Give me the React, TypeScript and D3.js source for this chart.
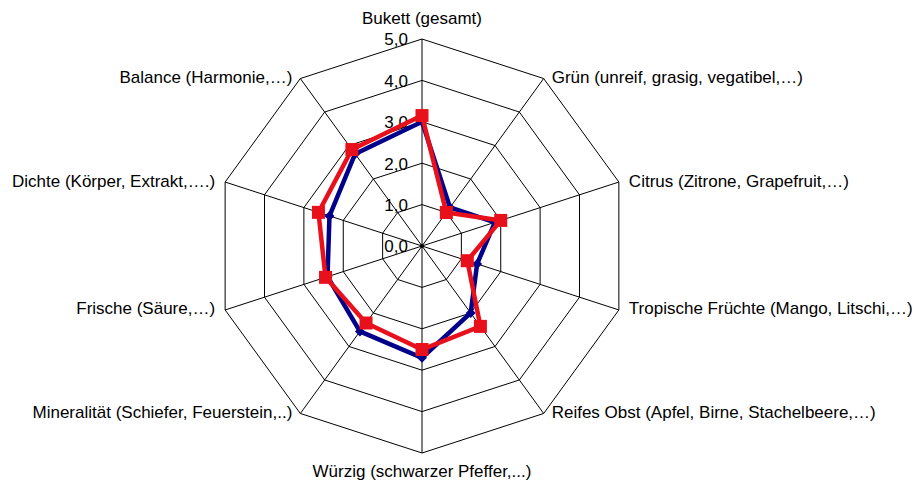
import React from "react";
import * as d3 from "d3";

const categories = [
  "Bukett (gesamt)",
  "Grün (unreif, grasig, vegatibel,…)",
  "Citrus (Zitrone, Grapefruit,…)",
  "Tropische Früchte (Mango, Litschi,…)",
  "Reifes Obst (Apfel, Birne, Stachelbeere,…)",
  "Würzig (schwarzer Pfeffer,...)",
  "Mineralität (Schiefer, Feuerstein,..)",
  "Frische (Säure,…)",
  "Dichte (Körper, Extrakt,….)",
  "Balance (Harmonie,…)",
];
const seriesBlue = [3.0, 1.15, 1.85, 1.4, 2.0, 2.7, 2.55, 2.4, 2.35, 2.75];
const seriesRed = [3.15, 1.0, 2.0, 1.15, 2.4, 2.5, 2.3, 2.45, 2.63, 2.88];
const tickValues = [0, 1, 2, 3, 4, 5];
const tickLabels = ["0,0", "1,0", "2,0", "3,0", "4,0", "5,0"];

const W = 916;
const H = 486;
const cx = 422;
const cy = 246;
const R = 207;

export default function App() {
  const r = d3.scaleLinear().domain([0, 5]).range([0, R]);
  const n = categories.length;
  const ang = (i: number) => (i * 2 * Math.PI) / n;
  const pt = (i: number, v: number): [number, number] => [
    cx + r(v) * Math.sin(ang(i)),
    cy - r(v) * Math.cos(ang(i)),
  ];
  const line = d3.line<[number, number]>().curve(d3.curveLinearClosed);

  const rings = tickValues.slice(1).map((t) =>
    line(categories.map((_, i) => pt(i, t)))
  );

  const labelPos = (i: number) => {
    const [x, y] = pt(i, 5);
    const a = ang(i);
    const s = Math.sin(a);
    let anchor: "start" | "middle" | "end" = "middle";
    let lx = x;
    let ly = y;
    if (Math.abs(s) < 0.01) {
      anchor = "middle";
      ly = Math.cos(a) > 0 ? y - 19 : y + 20;
    } else if (s > 0) {
      anchor = "start";
      lx = x + 8;
      ly = y + 0;
    } else {
      anchor = "end";
      lx = x - 8;
      ly = y + 0;
    }
    if (Math.abs(s) > 0.9) lx += s > 0 ? 2 : -2;
    return { lx, ly, anchor };
  };

  const series = [
    { vals: seriesBlue, color: "#00008b", marker: "diamond" },
    { vals: seriesRed, color: "#e8101a", marker: "square" },
  ];

  return (
    <svg width={W} height={H} style={{ position: "absolute", left: 0, top: 0 }}
      fontFamily="'Liberation Sans', Arial, sans-serif">
      <rect width={W} height={H} fill="#fff" />
      {rings.map((d, k) => (
        <path key={k} d={d ?? ""} fill="none" stroke="#000" strokeWidth={1} />
      ))}
      {categories.map((_, i) => {
        const [x, y] = pt(i, 5);
        return <line key={i} x1={cx} y1={cy} x2={x} y2={y} stroke="#000" strokeWidth={1} />;
      })}
      <circle cx={cx} cy={cy} r={2} fill="#000" />
      {tickValues.map((t, k) => (
        <text key={k} x={cx - 14} y={cy - r(t) + 2} textAnchor="end"
          dominantBaseline="middle" fontSize={17} fill="#000">
          {tickLabels[k]}
        </text>
      ))}
      {series.map((s, si) => {
        const pts = s.vals.map((v, i) => pt(i, v));
        return (
          <g key={si}>
            <path d={line(pts) ?? ""} fill="none" stroke={s.color} strokeWidth={4.5}
              strokeLinejoin="miter" />
            {pts.map(([x, y], i) =>
              s.marker === "square" ? (
                <rect key={i} x={x - 6.5} y={y - 6.5} width={13} height={13} fill={s.color} />
              ) : (
                <path key={i} d={`M${x},${y - 5}L${x + 5},${y}L${x},${y + 5}L${x - 5},${y}Z`} fill={s.color} />
              )
            )}
          </g>
        );
      })}
      {categories.map((c, i) => {
        const { lx, ly, anchor } = labelPos(i);
        return (
          <text key={i} x={lx} y={ly} textAnchor={anchor} dominantBaseline="middle"
            fontSize={17} fill="#000">
            {c}
          </text>
        );
      })}
    </svg>
  );
}
